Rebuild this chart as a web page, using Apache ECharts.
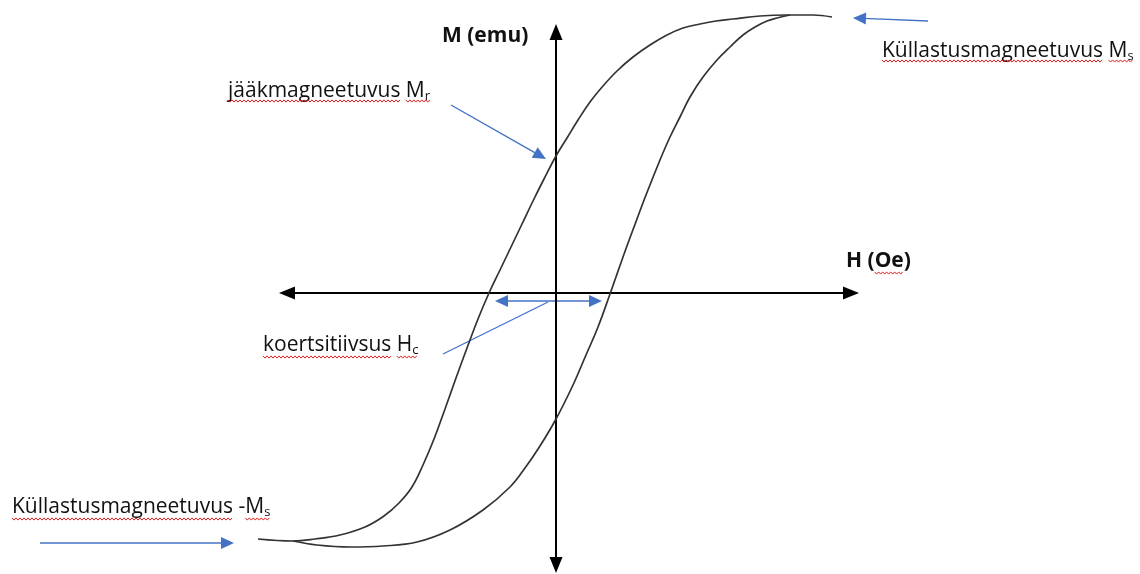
<!DOCTYPE html>
<html><head><meta charset="utf-8">
<script src="https://cdn.jsdelivr.net/npm/echarts@6/dist/echarts.min.js"></script>
<style>html,body{margin:0;padding:0;background:#fff}#c{width:1140px;height:574px}</style>
</head><body><div id="c"></div>
<script>
// Hysteresis loop (schematic units)
const hUpper = [276, 257, 231, 204, 177, 160, 144, 127, 111, 94, 77, 61, 47, 34, 22, 11, 0, -12, -23, -34, -45, -56, -67, -78, -89, -100, -111, -122, -133, -144, -157, -172, -191, -216, -241, -263, -298];
const mUpper = [276, 278, 278, 277, 274, 272, 269, 265, 258, 248, 236, 222, 207, 191, 173, 155, 137, 114, 92, 69, 46, 23, 0, -26, -55, -85, -116, -146, -172, -194, -210, -223, -234, -242, -246, -248, -246];
const hLower = [-263, -239, -206, -173, -139, -106, -73, -46, -31, -16, 0, 17, 30, 42, 54, 67, 78, 90, 104, 114, 124, 134, 147, 161, 174, 187, 199, 211, 221, 234];
const mLower = [-248, -252, -254, -253, -249, -237, -217, -194, -175, -153, -126, -92, -62, -34, -1, 36, 66, 98, 133, 156, 176, 196, 216, 233, 246, 258, 266, 272, 275, 278];
const axisNames = ['H (Oe)', 'M (emu)'];
const labels = {
  mr: ['jääkmagneetuvus', 'M', 'r'],
  ms: ['Küllastusmagneetuvus', 'M', 's'],
  hc: ['koertsitiivsus', 'H', 'c'],
  msNeg: ['Küllastusmagneetuvus', '-M', 's']
};

const FONT = 'Open Sans';
const SIZE = 21, SUB = 13, BOLD = 21;
const BLUE = '#4472c4';
const mctx = document.createElement('canvas').getContext('2d');
function tw(t, size, weight) {
  mctx.font = (weight || 'normal') + ' ' + size + 'px "' + FONT + '"';
  return mctx.measureText(t).width;
}

function arrow(x1, y1, x2, y2, both) {
  const els = [];
  const dx = x2 - x1, dy = y2 - y1, L = Math.hypot(dx, dy);
  const ux = dx / L, uy = dy / L, nx = -uy, ny = ux;
  const hl = 13, hw = 6;
  const sx = both ? x1 + ux * hl * 0.8 : x1, sy = both ? y1 + uy * hl * 0.8 : y1;
  els.push({type: 'line', shape: {x1: sx, y1: sy, x2: x2 - ux * hl * 0.8, y2: y2 - uy * hl * 0.8},
    style: {stroke: BLUE, lineWidth: 1.4}});
  const head = (tx, ty, vx, vy) => ({type: 'polygon', shape: {points: [
    [tx, ty], [tx - vx * hl + nx * hw, ty - vy * hl + ny * hw], [tx - vx * hl - nx * hw, ty - vy * hl - ny * hw]]},
    style: {fill: BLUE}});
  els.push(head(x2, y2, ux, uy));
  if (both) els.push(head(x1, y1, -ux, -uy));
  return els;
}
function plainLine(x1, y1, x2, y2) {
  return {type: 'line', shape: {x1, y1, x2, y2}, style: {stroke: BLUE, lineWidth: 1.3}};
}
function squiggle(x1, x2, y) {
  const pts = [];
  let k = 0;
  for (let x = x1; x <= x2; x += 2, k++) pts.push([x, y + (k % 2 ? 1.1 : -1.1)]);
  return {type: 'polyline', shape: {points: pts}, style: {stroke: '#e02020', lineWidth: 1, fill: null}};
}
// label with a subscript; red spell-check squiggles under the word and under the symbol
function label(x, y, parts, uy) {
  const word = parts[0], sym = parts[1], sub = parts[2];
  const head = word + ' ' + sym;
  const wHead = tw(head, SIZE);
  const symStart = x + wHead - tw(sym.replace('-', ''), SIZE);
  return [
    {type: 'text', x: x, y: y, style: {
      text: '{a|' + head + '}{s|' + sub + '}',
      verticalAlign: 'middle', align: 'left',
      rich: {
        a: {fontFamily: FONT, fontSize: SIZE, lineHeight: 24, fill: '#111'},
        s: {fontFamily: FONT, fontSize: SUB, lineHeight: 14, verticalAlign: 'bottom', fill: '#111'}
      }
    }},
    squiggle(x, x + tw(word, SIZE), uy),
    squiggle(symStart, x + wHead + tw(sub, SUB), uy)
  ];
}
function boldText(x, y, t) {
  return {type: 'text', x: x, y: y, style: {text: t, fontFamily: FONT, fontWeight: 'bold', fontSize: BOLD,
    fill: '#111', verticalAlign: 'middle', align: 'left'}};
}

const chart = echarts.init(document.getElementById('c'), null, {renderer: 'canvas'});
const hidden = {type: 'value', show: false, axisLine: {show: false}, axisTick: {show: false},
  axisLabel: {show: false}, splitLine: {show: false}};
const axisCommon = {
  type: 'value', gridIndex: 0,
  axisLine: {show: true, onZero: true, symbol: ['triangle', 'triangle'], symbolSize: [13, 16],
    lineStyle: {color: '#000', width: 2}},
  axisTick: {show: false}, axisLabel: {show: false}, splitLine: {show: false}
};
const hOeX = 846;
chart.setOption({
  animation: false,
  backgroundColor: '#fff',
  // grid 0 carries the two arrowed axes, grid 1 (same scale, larger) carries the loop
  grid: [
    {left: 287, right: 289, top: 32, bottom: 9},
    {left: 240, right: 280, top: 5, bottom: 9}
  ],
  xAxis: [
    Object.assign({}, axisCommon, {min: -269, max: 295}),
    Object.assign({}, hidden, {gridIndex: 1, min: -316, max: 304})
  ],
  yAxis: [
    Object.assign({}, axisCommon, {min: -272, max: 261}),
    Object.assign({}, hidden, {gridIndex: 1, min: -272, max: 288})
  ],
  series: [
    {type: 'line', xAxisIndex: 1, yAxisIndex: 1, data: hUpper.map((h, i) => [h, mUpper[i]]),
      smooth: 0.4, symbol: 'none', lineStyle: {color: '#333', width: 1.7}, z: 1},
    {type: 'line', xAxisIndex: 1, yAxisIndex: 1, data: hLower.map((h, i) => [h, mLower[i]]),
      smooth: 0.4, symbol: 'none', lineStyle: {color: '#333', width: 1.7}, z: 1}
  ],
  graphic: [
    boldText(442, 36, axisNames[1]),
    boldText(hOeX, 261, axisNames[0]),
    squiggle(hOeX + tw('H (', BOLD, 'bold'), hOeX + tw('H (Oe', BOLD, 'bold'), 273),
    ...label(228, 91, labels.mr, 101),
    ...label(882, 51, labels.ms, 61),
    ...label(263, 345, labels.hc, 357),
    ...label(12, 507, labels.msNeg, 519),
    ...arrow(451, 105, 546, 159, false),
    ...arrow(928, 21, 853, 18, false),
    ...arrow(40, 543, 234, 543, false),
    ...arrow(495, 301, 602, 301, true),
    plainLine(443, 354, 548, 302)
  ]
});
</script></body></html>
